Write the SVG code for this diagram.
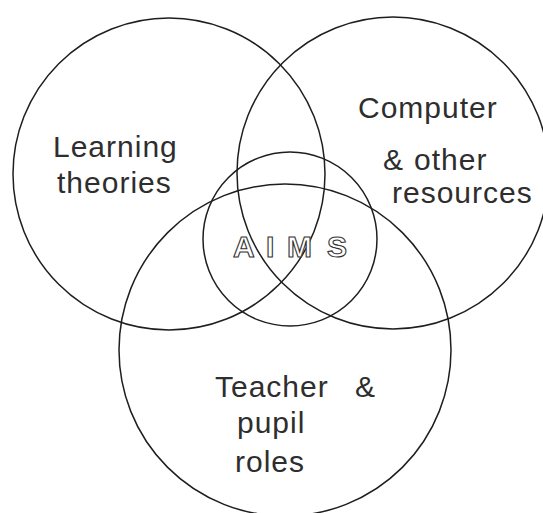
<svg xmlns="http://www.w3.org/2000/svg" width="543" height="513" viewBox="0 0 543 513">
  <style>
    .ring { fill: none; stroke: #1e1e1e; stroke-width: 1.5; }
    .label { font-family: "Liberation Sans", Arial, sans-serif; font-size: 30px; fill: #2e2e2e; letter-spacing: 1px; }
    .hollow { font-family: "Liberation Sans", Arial, sans-serif; font-weight: bold; font-size: 30px; fill: #ffffff; stroke: #333333; stroke-width: 1.1; }
  </style>
  <rect width="543" height="513" fill="#ffffff"/>

  <!-- three overlapping areas and the shared core -->
  <g id="learning-theories">
    <circle class="ring" cx="169" cy="174" r="156"/>
    <text class="label" x="53" y="157">Learning</text>
    <text class="label" x="57" y="193">theories</text>
  </g>

  <g id="computer-resources">
    <circle class="ring" cx="393" cy="173" r="156"/>
    <text class="label" x="358" y="118">Computer</text>
    <text class="label" x="383" y="170">&amp;<tspan x="414">other</tspan></text>
    <text class="label" x="392" y="203">resources</text>
  </g>

  <g id="teacher-pupil-roles">
    <circle class="ring" cx="285" cy="350" r="166"/>
    <text class="label" x="215" y="397">Teacher</text>
    <text class="label" x="355" y="397">&amp;</text>
    <text class="label" x="237" y="433">pupil</text>
    <text class="label" x="235" y="472">roles</text>
  </g>

  <g id="aims">
    <circle class="ring" cx="290" cy="239" r="87"/>
    <text class="hollow" x="233" y="257">A</text>
    <text class="hollow" x="266" y="257">I</text>
    <text class="hollow" x="287" y="257">M</text>
    <text class="hollow" x="327" y="257">S</text>
  </g>
</svg>
